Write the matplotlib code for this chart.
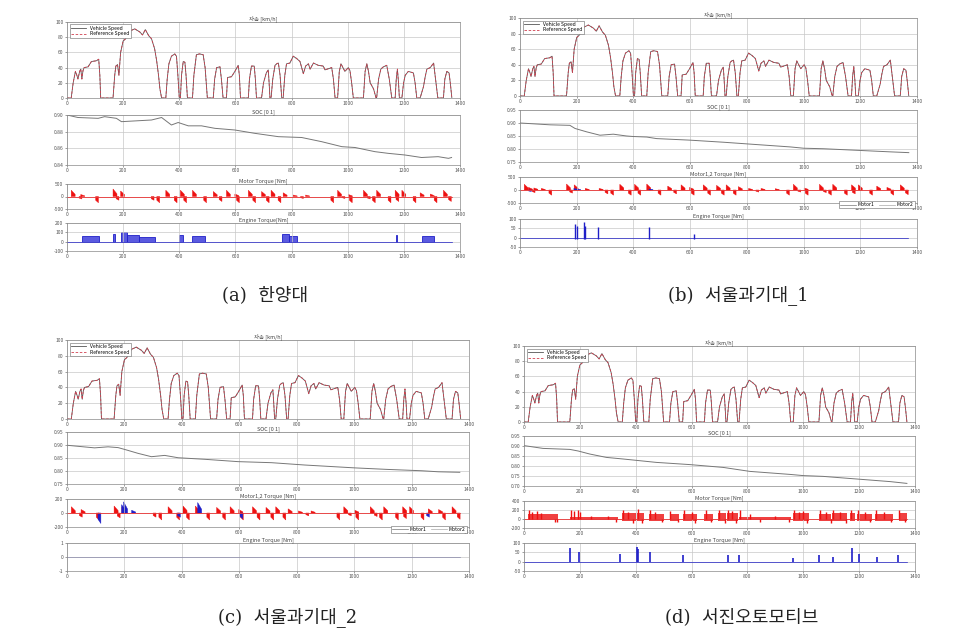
import numpy as np
import matplotlib
matplotlib.use("Agg")
from matplotlib import pyplot as plt

plt.rcParams['font.family'] = ['Noto Sans CJK KR', 'DejaVu Sans']
plt.rcParams['axes.unicode_minus'] = False

# ---- driving cycle (same reference cycle for all four runs) ----
speed_t = [0, 15, 22, 30, 35, 39, 45, 49, 53, 57, 61, 75, 87, 105, 113, 117, 120,
           164, 170, 174, 180, 185, 191, 200, 209, 224, 241, 259, 269, 279, 291, 301, 312, 319, 326, 331, 337,
           352, 357, 363, 372, 384, 390, 395, 400, 404, 408, 414, 420, 424, 429,
           447, 452, 461, 472, 485, 492, 500,
           521, 526, 533, 545, 550, 556,
           568, 572, 586, 598, 610, 614, 618,
           646, 650, 657, 667, 671, 675,
           693, 700, 710, 717, 720, 723,
           727, 733, 741, 747, 753, 759, 765,
           770, 776, 782, 794, 806, 818, 830, 842, 850, 860, 866, 878, 895, 913, 919, 943, 949, 955,
           964, 970, 976, 990, 1002, 1008, 1014, 1020,
           1056, 1062, 1068, 1074, 1080, 1092, 1101,
           1103, 1110, 1118, 1127, 1139, 1148, 1157,
           1169, 1173, 1177, 1181, 1184,
           1193, 1199, 1205, 1216, 1234, 1240, 1246,
           1258, 1270, 1276, 1282, 1294, 1306, 1313, 1321,
           1341, 1346, 1353, 1361, 1366, 1371]
speed_kmh = [0, 0, 20, 35, 30, 25, 35, 38, 25, 36, 40, 41, 48, 49, 51, 30, 0,
             0, 30, 42, 44, 30, 60, 75, 78, 88, 91, 87, 83, 90, 82, 78, 65, 50, 30, 12, 0,
             0, 25, 45, 55, 58, 55, 30, 0, 0, 30, 48, 47, 30, 0,
             0, 30, 57, 58, 57, 40, 0,
             0, 25, 40, 41, 25, 0,
             0, 27, 28, 35, 43, 30, 0,
             0, 25, 42, 42, 25, 0,
             0, 20, 33, 37, 20, 0,
             0, 25, 43, 45, 46, 30, 0,
             0, 30, 45, 46, 55, 52, 48, 32, 42, 45, 38, 46, 43, 42, 37, 40, 25, 0,
             0, 35, 45, 35, 40, 36, 20, 0,
             0, 35, 45, 35, 20, 12, 0,
             0, 25, 38, 41, 43, 25, 0,
             0, 25, 38, 20, 0,
             0, 20, 30, 35, 33, 20, 0,
             0, 15, 28, 38, 40, 46, 25, 0,
             0, 25, 35, 33, 18, 0]

# ---- SOC ----
soc_a_t = [0, 39, 111, 134, 176, 194, 301, 337, 372, 396, 432, 479, 527, 598, 669, 753, 836, 907, 979,
           1026, 1097, 1144, 1204, 1263, 1322, 1359, 1370]
soc_a = [0.900, 0.897, 0.896, 0.898, 0.896, 0.892, 0.894, 0.897, 0.888, 0.891, 0.887, 0.887, 0.884,
         0.882, 0.878, 0.874, 0.873, 0.868, 0.862, 0.861, 0.856, 0.854, 0.852, 0.849, 0.850, 0.848, 0.849]
soc_b_t = [0, 106, 176, 194, 235, 282, 329, 376, 400, 447, 482, 600, 718, 835, 953, 1000, 1071, 1188, 1306, 1371]
soc_b = [0.900, 0.893, 0.891, 0.879, 0.866, 0.853, 0.857, 0.850, 0.848, 0.846, 0.840, 0.834, 0.826,
         0.817, 0.808, 0.803, 0.801, 0.795, 0.789, 0.786]
soc_c_t = [0, 96, 143, 178, 207, 247, 294, 340, 387, 480, 596, 712, 828, 1002, 1118, 1235, 1293, 1368]
soc_c = [0.899, 0.889, 0.893, 0.890, 0.881, 0.868, 0.855, 0.860, 0.851, 0.845, 0.836, 0.832, 0.823,
         0.812, 0.806, 0.801, 0.797, 0.795]
soc_d_t = [0, 68, 164, 194, 235, 295, 355, 474, 594, 713, 809, 952, 1000, 1072, 1191, 1311, 1371]
soc_d = [0.902, 0.888, 0.883, 0.875, 0.860, 0.843, 0.835, 0.818, 0.807, 0.793, 0.773, 0.758, 0.752,
         0.748, 0.735, 0.722, 0.713]

# ---- motor torque events [Nm] ----
motor_a_t = [15, 49, 53, 112, 164, 185, 191, 310, 330, 352, 392, 404, 426, 447, 497, 521, 552, 568,
             598, 614, 646, 672, 693, 720, 727, 762, 770, 806, 842, 850, 950, 964, 990, 1002, 1016,
             1056, 1080, 1098, 1103, 1154, 1169, 1182, 1193, 1243, 1258, 1294, 1318, 1341, 1369]
motor_a_q = [250, 80, -100, -250, 300, -150, 220, -150, -250, 250, -250, 250, -250, 250, -250, 200,
             -200, 250, 100, -250, 250, -250, 200, -250, 250, -250, 150, 60, -80, 60, -250, 250, -80,
             80, -250, 250, -100, -250, 250, -250, 250, -200, 250, -250, 150, 100, -250, 250, -200]
motor_b_t = [15, 30, 49, 53, 75, 112, 164, 185, 191, 230, 279, 310, 330, 352, 392, 404, 426, 447,
             497, 521, 552, 568, 598, 614, 646, 672, 693, 720, 727, 762, 770, 806, 842, 850, 900, 950,
             964, 990, 1002, 1016, 1056, 1080, 1098, 1103, 1154, 1169, 1182, 1193, 1243, 1258, 1294,
             1318, 1341, 1369]
motor_b_q = [220, 100, 80, -100, 60, -200, 230, -120, 200, 60, 60, -150, -200, 220, -200, 220, -200,
             230, -200, 150, -150, 200, 100, -200, 200, -200, 180, -200, 200, -200, 130, 60, -80, 60,
             50, -200, 220, -80, 80, -200, 220, -100, -200, 220, -200, 200, -150, 200, -200, 150, 100,
             -200, 200, -180]
motor2_b_t = [40, 190, 200, 455]
motor2_b_q = [-60, 60, 40, 40]
motor_c_t = [15, 49, 53, 112, 164, 185, 191, 310, 330, 352, 392, 404, 426, 447, 497, 521, 552, 568,
             598, 614, 646, 672, 693, 720, 727, 762, 770, 806, 842, 850, 950, 964, 990, 1002, 1016,
             1056, 1080, 1098, 1103, 1154, 1169, 1182, 1193, 1243, 1258, 1294, 1318, 1341, 1369]
motor_c_q = [90, 50, -60, -100, 100, -70, 90, -60, -100, 90, -100, 100, -100, 100, -100, 80, -100,
             90, 50, -100, 90, -100, 80, -100, 90, -100, 60, 30, -40, 30, -100, 90, -40, 40, -100, 90,
             -50, -100, 90, -100, 90, -80, 90, -100, 60, 50, -100, 90, -90]
motor2_c_t = [118, 190, 197, 225, 395, 455, 612, 1262]
motor2_c_q = [-150, 120, 160, 40, -60, 150, -80, -60]
# run (d): motor torque stays busy over each trip -> level per trip, spikes inside
trip_start = [15, 164, 352, 404, 447, 521, 568, 646, 693, 727, 770, 964, 1056, 1103, 1169, 1193, 1258, 1341]
trip_end = [120, 337, 400, 429, 500, 556, 618, 675, 723, 765, 955, 1020, 1101, 1157, 1184, 1246, 1321, 1371]
motor_d_level = [110, 40, 130, 130, 120, 110, 110, 120, 130, 130, 40, 130, 120, 130, 130, 120, 110, 130]
motor_d_low = [-30, -20, -40, -50, -40, -40, -40, -40, -50, -40, -20, -40, -50, -40, -40, -40, -40, -50]
motor_d_spike_t = [18, 30, 45, 60, 112, 118, 168, 180, 192, 200, 240, 300, 330, 355, 372, 392, 407,
                   422, 450, 470, 495, 524, 550, 572, 600, 614, 650, 670, 697, 718, 730, 745, 760,
                   775, 810, 845, 900, 948, 967, 985, 1000, 1015, 1060, 1080, 1098, 1106, 1130, 1152,
                   1172, 1196, 1220, 1240, 1262, 1290, 1315, 1344, 1365]
motor_d_spike_q = [200, 150, 180, 130, -60, -70, 200, 180, 210, 150, 60, 70, -70, 210, 160, -80, 220,
                   -80, 210, 150, -70, 170, -70, 200, 150, -80, 200, -70, 200, -80, 210, 170, -80,
                   190, 120, -60, 70, -60, 210, 160, 180, -80, 200, 150, -80, 200, 160, -80, 200,
                   200, 150, -70, 190, 160, -70, 200, -70]

# ---- engine torque ----
engine_a_start = [55, 165, 193, 215, 255, 400, 447, 765, 790, 1171, 1266]
engine_a_end = [115, 172, 215, 255, 312, 412, 490, 790, 818, 1175, 1306]
engine_a_level = [60, 80, 100, 75, 55, 70, 60, 80, 60, 70, 60]
engine_b_t = [195, 200, 225, 228, 275, 455, 615]
engine_b_q = [75, 60, 85, 60, 55, 55, 20]
engine_d_t = [165, 197, 345, 405, 409, 452, 570, 730, 770, 962, 1057, 1105, 1175, 1200, 1265, 1340]
engine_d_q = [75, 50, 40, 80, 70, 50, 35, 35, 35, 20, 35, 25, 75, 40, 25, 35]

captions = ['(a)  한양대', '(b)  서울과기대_1', '(c)  서울과기대_2', '(d)  서진오토모티브']

W, H = 965, 641
fig = plt.figure(figsize=(W / 100, H / 100), dpi=100)
fig.patch.set_facecolor('white')

def box(x0, x1, y0, y1):
    return [x0 / W, 1 - y1 / H, (x1 - x0) / W, (y1 - y0) / H]

FS = 3.6

def style(ax, ylim, yticks, title):
    ax.set_xlim(0, 1400)
    ax.set_xticks(range(0, 1401, 200))
    ax.set_ylim(*ylim)
    ax.set_yticks(yticks)
    ax.grid(True, color='#c8c8c8', linewidth=0.5)
    ax.tick_params(labelsize=FS, length=1.5, width=0.4, pad=1, colors='#555555')
    for s in ax.spines.values():
        s.set_linewidth(0.5)
        s.set_color('#888888')
    ax.set_title(title, fontsize=FS + 0.3, pad=1.5, color='#444444')

def wedges(ax, t, q, color):
    for ti, qi in zip(t, q):
        if qi >= 0:
            ax.fill([ti, ti, ti + 14, ti + 14], [0, qi, 0.35 * qi, 0], color=color, lw=0.3)
        else:
            ax.fill([ti - 10, ti - 10, ti, ti], [0, 0.6 * qi, qi, 0], color=color, lw=0.3)

def speed_plot(ax):
    ax.plot(speed_t, speed_kmh, color='#555555', lw=0.6, label='Vehicle Speed')
    ax.plot(speed_t, speed_kmh, color='#d04050', lw=0.6, ls=(0, (3, 2)), label='Reference Speed')
    style(ax, (0, 100), range(0, 101, 20), '차속 [km/h]')
    ax.legend(loc='upper left', fontsize=FS, frameon=True, borderpad=0.3, handlelength=3,
              labelspacing=0.1, framealpha=1, edgecolor='#666666', fancybox=False).get_frame().set_linewidth(0.4)

def soc_plot(ax, t, s, ylim, ticks):
    ax.plot(t, s, color='#777777', lw=0.7)
    style(ax, ylim, ticks, 'SOC [0 1]')

def motor_legend(ax):
    handles = [plt.Line2D([], [], color='#777777', lw=0.5), plt.Line2D([], [], color='#aaaaaa', lw=0.5)]
    leg = ax.legend(handles=handles, labels=['Motor1', 'Motor2'],
                    loc='lower right', bbox_to_anchor=(1.0, -0.3), ncol=2, fontsize=FS, handlelength=3.2,
                    borderpad=0.2, columnspacing=0.8, handletextpad=0.4, framealpha=1,
                    edgecolor='#666666', fancybox=False)
    leg.get_frame().set_linewidth(0.4)

layout = {
    'a': (67, 460, [(22, 98), (115, 165), (184, 209), (223, 251)]),
    'b': (520, 917, [(18, 96), (110, 162), (177, 203), (219, 247)]),
    'c': (67, 469, [(340, 419), (432, 484), (499, 527), (543, 571)]),
    'd': (524, 915, [(346, 422), (436, 486), (501, 528), (543, 571)]),
}

axes = {}
for key, (x0, x1, rows) in layout.items():
    axes[key] = [fig.add_axes(box(x0, x1, y0, y1)) for (y0, y1) in rows]

BLUE = '#1f1fc8'
RED = '#ee1111'

# (a)
sp, so, mo, en = axes['a']
speed_plot(sp)
soc_plot(so, soc_a_t, soc_a, (0.84, 0.9), [0.84, 0.86, 0.88, 0.9])
mo.plot([0, 1370], [0, 0], color=RED, lw=0.5)
wedges(mo, motor_a_t, motor_a_q, RED)
style(mo, (-500, 500), [-500, 0, 500], 'Motor Torque [Nm]')
en.plot([0, 1370], [0, 0], color=BLUE, lw=0.5)
en.bar(engine_a_start, engine_a_level, width=np.array(engine_a_end) - np.array(engine_a_start),
       align='edge', color='#5a5ae0', edgecolor=BLUE, lw=0.6)
style(en, (-100, 200), [-100, 0, 100, 200], 'Engine Torque[Nm]')

# (b)
sp, so, mo, en = axes['b']
speed_plot(sp)
soc_plot(so, soc_b_t, soc_b, (0.75, 0.95), [0.75, 0.8, 0.85, 0.9, 0.95])
mo.plot([0, 1370], [0, 0], color=RED, lw=0.5)
wedges(mo, motor_b_t, motor_b_q, RED)
wedges(mo, motor2_b_t, motor2_b_q, BLUE)
style(mo, (-500, 500), [-500, 0, 500], 'Motor1,2 Torque [Nm]')
motor_legend(mo)
en.plot([0, 1370], [0, 0], color=BLUE, lw=0.5)
en.vlines(engine_b_t, -5, engine_b_q, color=BLUE, lw=1.0)
style(en, (-50, 100), [-50, 0, 50, 100], 'Engine Torque [Nm]')

# (c)
sp, so, mo, en = axes['c']
speed_plot(sp)
soc_plot(so, soc_c_t, soc_c, (0.75, 0.95), [0.75, 0.8, 0.85, 0.9, 0.95])
mo.plot([0, 1370], [0, 0], color=RED, lw=0.5)
wedges(mo, motor_c_t, motor_c_q, RED)
wedges(mo, motor2_c_t, motor2_c_q, BLUE)
style(mo, (-200, 200), [-200, 0, 200], 'Motor1,2 Torque [Nm]')
motor_legend(mo)
en.plot([0, 1370], [0, 0], color='#8888aa', lw=0.5)
style(en, (-1, 1), [-1, 0, 1], 'Engine Torque [Nm]')

# (d)
sp, so, mo, en = axes['d']
speed_plot(sp)
soc_plot(so, soc_d_t, soc_d, (0.7, 0.95), [0.7, 0.75, 0.8, 0.85, 0.9, 0.95])
mo.plot([0, 1370], [0, 0], color=RED, lw=0.5)
widths = np.array(trip_end) - np.array(trip_start)
mo.bar(trip_start, motor_d_level, width=widths, align='edge', color='#f04040', lw=0)
mo.bar(trip_start, motor_d_low, width=widths, align='edge', color='#f04040', lw=0)
mo.vlines(motor_d_spike_t, 0, motor_d_spike_q, color=RED, lw=1.0)
style(mo, (-200, 400), [-200, 0, 200, 400], 'Motor Torque [Nm]')
en.plot([0, 1370], [0, 0], color=BLUE, lw=0.5)
en.vlines(engine_d_t, 0, engine_d_q, color=BLUE, lw=1.2)
style(en, (-50, 100), [-50, 0, 50, 100], 'Engine Torque [Nm]')

# captions
cap_pos = [(265, 295), (738, 295), (288, 617), (742, 617)]
for text, (cx, cy) in zip(captions, cap_pos):
    fig.text(cx / W, 1 - cy / H, text, ha='center', va='center', fontsize=13,
             family=['DejaVu Serif', 'Noto Sans CJK KR'], color='#222222')

fig.savefig('out.png', dpi=100, facecolor='white')
